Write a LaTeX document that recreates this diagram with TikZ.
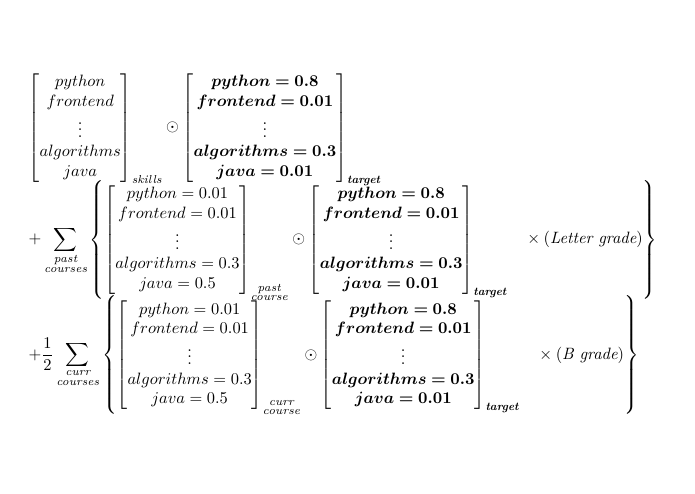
\documentclass[tikz,border=0pt]{standalone}
\usepackage{amsmath,bm}
\newcommand{\tvec}{\left[\begin{matrix}
  \bm{python=0.8}\\ \bm{frontend=0.01}\\ \vdots\\ \bm{algorithms=0.3}\\ \bm{java=0.01}
  \end{matrix}\right]_{\textit{\textbf{\scriptsize target}}}}
\newcommand{\cvec}{\left[\begin{matrix}
  python=0.01\\ frontend=0.01\\ \vdots\\ algorithms=0.3\\ java=0.5
  \end{matrix}\right]}
\begin{document}
\begin{tikzpicture}[x=1pt,y=1pt]
    \useasboundingbox (0,0) rectangle (695,494);
    \node (eq) at (343,250) {\resizebox{645pt}{!}{$\renewcommand{\arraystretch}{1}
    \begin{array}{l}
    \left[\begin{matrix} python\\ frontend\\ \vdots\\ algorithms\\ java\end{matrix}\right]_{\textit{\scriptsize skills}}
    \odot \tvec\\[-3pt]
    +\displaystyle\sum_{\substack{\textit{past}\\ \textit{courses}}}
    \left\{\cvec_{\substack{\textit{past}\\ \textit{course}}}\odot\tvec\quad\times(\textit{Letter grade})\right\}\\[-3pt]
    +\dfrac{1}{2}\displaystyle\sum_{\substack{\textit{curr}\\ \textit{courses}}}
    \left\{\cvec_{\substack{\textit{curr}\\ \textit{course}}}\odot\tvec\quad\times(\textit{B grade})\right\}
    \end{array}$}};
\end{tikzpicture}
\end{document}
